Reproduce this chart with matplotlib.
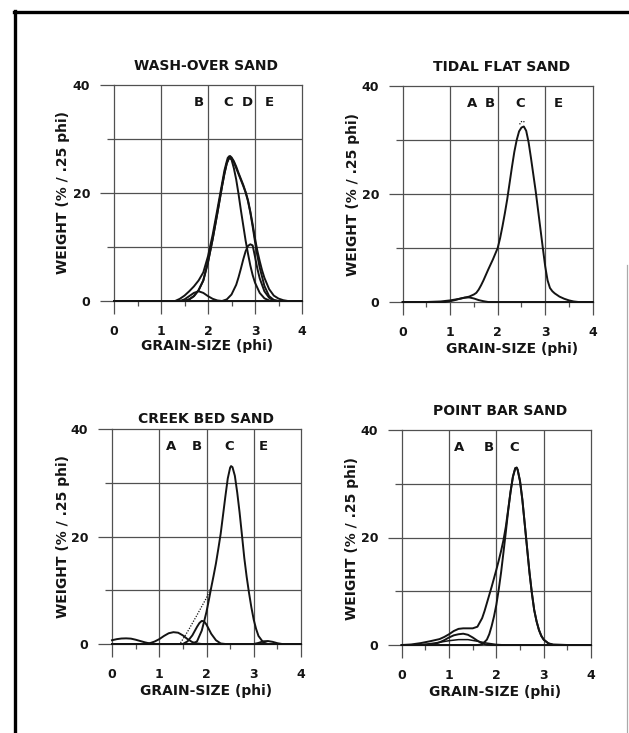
import matplotlib
matplotlib.use("Agg")
import matplotlib.pyplot as plt
from matplotlib.lines import Line2D
from matplotlib.ticker import FixedLocator, NullFormatter

# ---------------------------------------------------------------- data
# WASH-OVER SAND
wo_phi_total = [0, 1.3, 1.4, 1.5, 1.6, 1.7, 1.8, 1.9, 2.0, 2.1, 2.2, 2.3, 2.35, 2.4, 2.42,
                2.45, 2.47, 2.5, 2.55, 2.6, 2.65, 2.7, 2.75, 2.8, 2.85, 2.9, 2.95, 3.0, 3.05,
                3.1, 3.15, 3.2, 3.3, 3.4, 3.5, 3.6, 3.7, 4.0]
wo_total = [0, 0, 0.4, 1.0, 1.8, 2.7, 3.8, 5.3, 8.3, 12.3, 17.0, 21.8, 24.2, 25.9, 26.5,
            26.8, 26.85, 26.6, 25.9, 24.9, 23.7, 22.6, 21.5, 20.2, 18.7, 16.6, 14.2, 11.6, 9.3,
            7.4, 5.7, 4.3, 2.2, 1.0, 0.45, 0.15, 0, 0]
wo_phi_cd = [0, 1.5, 1.6, 1.7, 1.8, 1.9, 2.0, 2.1, 2.2, 2.3, 2.35, 2.4, 2.45, 2.5, 2.55,
             2.6, 2.65, 2.7, 2.75, 2.8, 2.85, 2.9, 2.95, 3.0, 3.05, 3.1, 3.2, 3.3, 3.4, 3.5,
             4.0]
wo_cd = [0, 0, 0.3, 0.9, 2.0, 3.8, 7.2, 11.5, 16.3, 21.3, 23.6, 25.5, 26.6, 26.5, 25.7,
         24.6, 23.5, 22.4, 21.3, 20.1, 18.5, 16.4, 13.8, 11.0, 8.4, 6.2, 2.8, 0.9, 0.2, 0,
         0]
wo_phi_c = [0, 1.5, 1.6, 1.7, 1.8, 1.9, 2.0, 2.1, 2.2, 2.3, 2.35, 2.4, 2.45, 2.5, 2.55,
            2.6, 2.65, 2.7, 2.75, 2.8, 2.85, 2.9, 2.95, 3.0, 3.1, 3.2, 3.3, 3.4, 4.0]
wo_c = [0, 0, 0.3, 0.9, 2.0, 3.8, 7.2, 11.5, 16.3, 21.3, 23.6, 25.5, 26.5, 26.2, 24.6,
        22.5, 19.8, 16.8, 14.0, 11.2, 8.8, 6.6, 4.8, 3.4, 1.5, 0.5, 0.1, 0, 0]
wo_phi_d = [0, 2.3, 2.4, 2.5, 2.6, 2.65, 2.7, 2.75, 2.8, 2.85, 2.9, 2.95, 3.0, 3.05, 3.1,
            3.2, 3.3, 3.4, 3.5, 4.0]
wo_d = [0, 0, 0.3, 1.2, 3.0, 4.4, 6.0, 7.7, 9.2, 10.2, 10.5, 10.3, 8.2, 6.0, 4.2, 1.8,
        0.6, 0.1, 0, 0]
wo_phi_b = [0, 1.4, 1.5, 1.6, 1.7, 1.8, 1.9, 2.0, 2.1, 2.2, 2.3, 4.0]
wo_b = [0, 0, 0.3, 0.9, 1.5, 1.8, 1.5, 0.9, 0.4, 0.1, 0, 0]
wo_zones = ["B", "C", "D", "E"]
wo_zone_phi = [1.8, 2.42, 2.84, 3.3]

# TIDAL FLAT SAND
tf_phi_total = [0, 0.5, 0.8, 1.0, 1.2, 1.4, 1.5, 1.55, 1.6, 1.65, 1.7, 1.8, 1.9, 2.0, 2.05,
                2.1, 2.15, 2.2, 2.25, 2.3, 2.35, 2.4, 2.45, 2.5, 2.55, 2.6, 2.65, 2.7, 2.75,
                2.8, 2.85, 2.9, 2.95, 3.0, 3.05, 3.1, 3.15, 3.2, 3.3, 3.4, 3.5, 3.6, 3.7, 4.0]
tf_total = [0, 0, 0.1, 0.3, 0.6, 1.0, 1.4, 1.7, 2.3, 3.1, 4.0, 6.0, 7.9, 10.0, 11.8,
            14.0, 16.4, 19.0, 22.0, 25.0, 27.8, 30.0, 31.6, 32.3, 32.5, 31.7, 29.6, 26.7, 23.6,
            20.5, 17.0, 13.5, 10.0, 6.6, 4.0, 2.6, 2.0, 1.6, 1.0, 0.6, 0.3, 0.1, 0, 0]
tf_phi_a = [0, 0.9, 1.0, 1.1, 1.2, 1.3, 1.4, 1.5, 1.6, 1.7, 1.8, 4.0]
tf_a = [0, 0, 0.15, 0.35, 0.6, 0.8, 0.85, 0.65, 0.35, 0.15, 0, 0]
tf_phi_cap = [2.46, 2.5, 2.54, 2.58]
tf_cap = [32.9, 33.4, 33.5, 33.1]
tf_zones = ["A", "B", "C", "E"]
tf_zone_phi = [1.45, 1.84, 2.47, 3.28]

# CREEK BED SAND
cb_phi_a0 = [0, 0.1, 0.2, 0.3, 0.4, 0.5, 0.6, 0.7, 0.8, 0.9, 4.0]
cb_a0 = [0.7, 0.9, 1.02, 1.05, 1.0, 0.8, 0.55, 0.3, 0.1, 0, 0]
cb_phi_a = [0, 0.7, 0.8, 0.9, 1.0, 1.1, 1.2, 1.3, 1.4, 1.5, 1.6, 1.7, 1.8, 1.9, 4.0]
cb_a = [0, 0, 0.15, 0.45, 0.9, 1.5, 2.0, 2.2, 2.1, 1.6, 0.9, 0.35, 0.1, 0, 0]
cb_phi_b = [0, 1.5, 1.6, 1.7, 1.8, 1.85, 1.9, 1.95, 2.0, 2.1, 2.2, 2.3, 2.4, 4.0]
cb_b = [0, 0, 0.5, 1.6, 3.2, 3.9, 4.3, 4.2, 3.6, 1.9, 0.7, 0.1, 0, 0]
cb_phi_c = [0, 1.7, 1.8, 1.9, 1.95, 2.0, 2.05, 2.1, 2.15, 2.2, 2.25, 2.3, 2.35, 2.4, 2.45,
            2.5, 2.52, 2.55, 2.6, 2.65, 2.7, 2.75, 2.8, 2.85, 2.9, 2.95, 3.0, 3.05, 3.1,
            3.2, 3.3, 4.0]
cb_c = [0, 0, 0.5, 2.5, 4.2, 6.0, 8.2, 10.5, 12.7, 15.0, 17.7, 20.5, 24.0, 27.5, 30.8,
        32.8, 33.1, 32.9, 31.3, 28.2, 24.5, 20.3, 16.0, 12.5, 9.5, 6.8, 4.5, 2.8, 1.5,
        0.3, 0, 0]
cb_phi_e = [0, 3.0, 3.1, 3.2, 3.3, 3.4, 3.5, 3.6, 4.0]
cb_e = [0, 0, 0.2, 0.5, 0.55, 0.4, 0.15, 0, 0]
cb_phi_sum = [1.45, 1.6, 1.8, 2.0, 2.1]
cb_sum = [0.2, 2.3, 5.4, 8.6, 10.5]
cb_zones = ["A", "B", "C", "E"]
cb_zone_phi = [1.24, 1.79, 2.48, 3.2]

# POINT BAR SAND
pb_phi_total = [0, 0.2, 0.4, 0.6, 0.8, 0.9, 1.0, 1.1, 1.2, 1.3, 1.4, 1.5, 1.6, 1.7, 1.75,
                1.8, 1.85, 1.9, 1.95, 2.0, 2.05, 2.1, 2.15, 2.2, 2.25, 2.3, 2.35, 2.4, 2.43,
                2.45, 2.5, 2.55, 2.6, 2.65, 2.7, 2.75, 2.8, 2.85, 2.9, 2.95, 3.0, 3.1, 3.2,
                3.5, 4.0]
pb_total = [0, 0.1, 0.35, 0.7, 1.1, 1.5, 2.0, 2.6, 3.0, 3.1, 3.1, 3.1, 3.4, 5.0, 6.3,
            7.8, 9.3, 10.8, 12.4, 14.0, 15.7, 17.5, 19.5, 22.0, 25.2, 28.5, 31.3, 32.9, 33.0,
            32.6, 30.5, 27.0, 22.5, 18.0, 13.5, 9.7, 6.5, 4.4, 2.8, 1.7, 1.0, 0.3, 0.1,
            0, 0]
pb_phi_c = [0, 1.6, 1.7, 1.8, 1.85, 1.9, 1.95, 2.0, 2.05, 2.1, 2.15, 2.2, 2.25, 2.3, 2.35,
            2.4, 2.43, 2.45, 2.5, 2.55, 2.6, 2.65, 2.7, 2.75, 2.8, 2.85, 2.9, 2.95, 3.0,
            3.1, 3.2, 4.0]
pb_c = [0, 0, 0.1, 1.0, 2.0, 3.5, 5.3, 7.5, 10.3, 13.5, 17.2, 21.0, 25.0, 28.5, 31.3,
        32.9, 33.0, 32.6, 30.5, 27.0, 22.5, 18.0, 13.5, 9.7, 6.5, 4.4, 2.8, 1.7, 1.0,
        0.3, 0, 0]
pb_phi_a = [0, 0.6, 0.7, 0.8, 0.9, 1.0, 1.1, 1.2, 1.3, 1.4, 1.5, 1.6, 1.7, 1.8, 1.9, 4.0]
pb_a = [0, 0, 0.2, 0.5, 0.9, 1.4, 1.8, 2.0, 2.1, 1.9, 1.4, 0.8, 0.3, 0.05, 0, 0]
pb_phi_a2 = [0, 0.3, 0.6, 0.8, 1.0, 1.2, 1.4, 1.6, 1.8, 2.0, 2.2, 4.0]
pb_a2 = [0, 0, 0.25, 0.5, 0.8, 1.0, 1.0, 0.7, 0.35, 0.1, 0, 0]
pb_zones = ["A", "B", "C"]
pb_zone_phi = [1.22, 1.85, 2.37]

titles = ["WASH-OVER SAND", "TIDAL FLAT SAND", "CREEK BED SAND", "POINT BAR SAND"]
x_ticks = [0, 1, 2, 3, 4]
y_ticks = [0, 20, 40]

# ---------------------------------------------------------------- layout
W, H = 629, 733
fig = plt.figure(figsize=(W / 100, H / 100), dpi=100)
fig.patch.set_facecolor("white")

INK = "#141414"
GRID = "#505050"


def fx(px):
    return px / W


def fy(py):
    return 1 - py / H


def make_axes(left, right, top, bottom):
    ax = fig.add_axes([fx(left), fy(bottom), (right - left) / W, (bottom - top) / H])
    ax.set_xlim(0, 4)
    ax.set_ylim(0, 40)
    ax.xaxis.set_major_locator(FixedLocator(x_ticks))
    ax.xaxis.set_minor_locator(FixedLocator([0.5, 1.5, 2.5, 3.5]))
    ax.yaxis.set_major_locator(FixedLocator(y_ticks))
    ax.yaxis.set_minor_locator(FixedLocator([10, 30]))
    ax.yaxis.set_minor_formatter(NullFormatter())
    ax.xaxis.set_minor_formatter(NullFormatter())
    ax.tick_params(axis="x", which="major", length=9, width=0.9, color=GRID, pad=8,
                   labelsize=9, direction="out")
    ax.tick_params(axis="x", which="minor", length=3.5, width=0.9, color=GRID, direction="out")
    ax.tick_params(axis="y", which="major", length=10, width=0.9, color=GRID, pad=7,
                   labelsize=9, direction="out")
    ax.tick_params(axis="y", which="minor", length=5, width=0.9, color=GRID, direction="out")
    for lab in ax.get_xticklabels() + ax.get_yticklabels():
        lab.set_fontweight("bold")
        lab.set_color(INK)
    for s in ax.spines.values():
        s.set_color(GRID)
        s.set_linewidth(0.9)
    for v in [1, 2, 3]:
        ax.axvline(v, color=GRID, lw=0.9, zorder=1)
    for h in [10, 20, 30]:
        ax.axhline(h, color=GRID, lw=0.9, zorder=1)
    return ax


def curve(ax, phi, w, **kw):
    style = dict(color=INK, lw=1.4, solid_joinstyle="round", zorder=3, clip_on=False)
    style.update(kw)
    ax.plot(phi, w, **style)


def zones(ax, names, pos):
    for n, p in zip(names, pos):
        ax.text(p, 36.8, n, ha="center", va="center", fontsize=9.5,
                fontweight="bold", color=INK)


def labels(title_xy, ylab_x, yc, xlab_xy, title):
    fig.text(fx(title_xy[0]), fy(title_xy[1]), title, ha="center", va="center",
             fontsize=10, fontweight="bold", color=INK)
    fig.text(fx(ylab_x), fy(yc), "WEIGHT (% / .25 phi)", ha="center", va="center",
             rotation=90, fontsize=10, fontweight="bold", color=INK)
    fig.text(fx(xlab_xy[0]), fy(xlab_xy[1]), "GRAIN-SIZE (phi)", ha="center", va="center",
             fontsize=10, fontweight="bold", color=INK)


# WASH-OVER SAND
ax1 = make_axes(114, 302, 85, 301)
curve(ax1, wo_phi_b, wo_b)
curve(ax1, wo_phi_d, wo_d)
curve(ax1, wo_phi_c, wo_c)
curve(ax1, wo_phi_cd, wo_cd)
curve(ax1, wo_phi_total, wo_total)
zones(ax1, wo_zones, wo_zone_phi)
labels((206, 66), 63, 193, (207, 346), titles[0])

# TIDAL FLAT SAND
ax2 = make_axes(402.7, 592.7, 86, 302)
curve(ax2, tf_phi_a, tf_a)
curve(ax2, tf_phi_total, tf_total)
curve(ax2, tf_phi_cap, tf_cap, lw=0.9, ls=(0, (1, 1.2)))
zones(ax2, tf_zones, tf_zone_phi)
labels((502, 67), 353, 194, (512, 349), titles[1])

# CREEK BED SAND
ax3 = make_axes(112, 301, 429, 644)
curve(ax3, cb_phi_a0, cb_a0)
curve(ax3, cb_phi_a, cb_a)
curve(ax3, cb_phi_b, cb_b)
curve(ax3, cb_phi_e, cb_e)
curve(ax3, cb_phi_c, cb_c)
curve(ax3, cb_phi_sum, cb_sum, lw=0.9, ls=(0, (1, 1.2)))
zones(ax3, cb_zones, cb_zone_phi)
labels((206, 419), 63, 537, (206, 691), titles[2])

# POINT BAR SAND
ax4 = make_axes(401.7, 591, 430, 645)
curve(ax4, pb_phi_a2, pb_a2, lw=1.1)
curve(ax4, pb_phi_a, pb_a)
curve(ax4, pb_phi_c, pb_c)
curve(ax4, pb_phi_total, pb_total)
zones(ax4, pb_zones, pb_zone_phi)
labels((500, 411), 352, 538, (495, 692), titles[3])

# page frame
fig.add_artist(Line2D([fx(15), fx(15)], [fy(11), fy(733)], lw=2.4, color="black",
                      transform=fig.transFigure))
fig.add_artist(Line2D([fx(14), fx(629)], [fy(12), fy(12)], lw=2.4, color="black",
                      transform=fig.transFigure))
fig.add_artist(Line2D([fx(627), fx(627)], [fy(265), fy(733)], lw=0.9, color="#aaaaaa",
                      transform=fig.transFigure))

fig.savefig("out.png", dpi=100, facecolor="white")
